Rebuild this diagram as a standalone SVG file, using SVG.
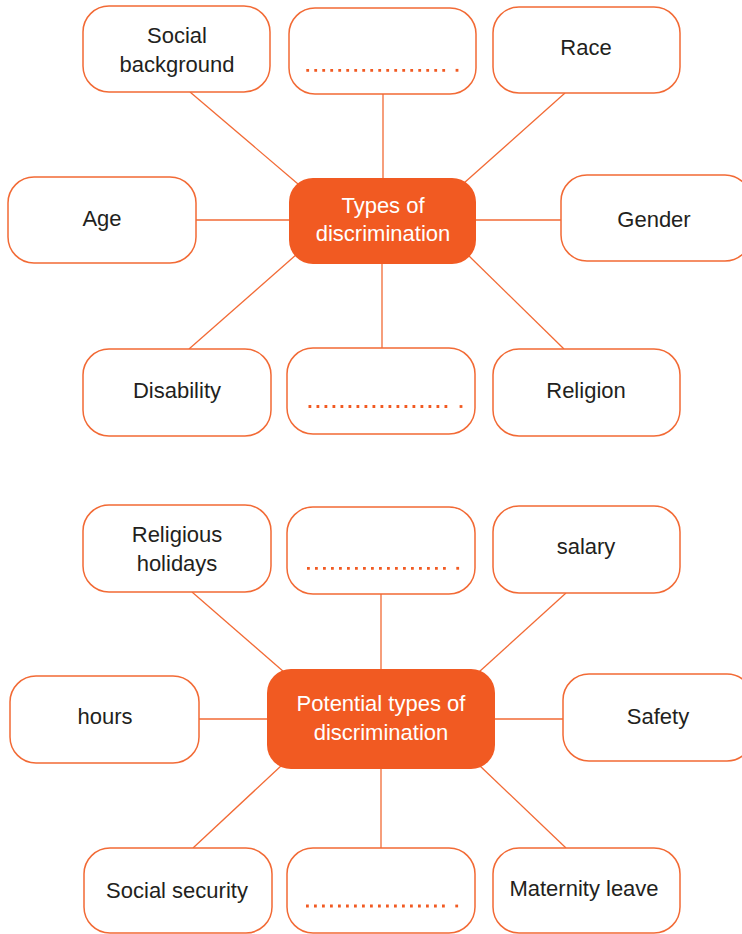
<svg xmlns="http://www.w3.org/2000/svg" width="742" height="934" viewBox="0 0 742 934">
<style>
.box{fill:#fff;stroke:#f26a35;stroke-width:1.5}
.hub{fill:#f15a22;stroke:none}
.t{font-family:"Liberation Sans",Arial,sans-serif;font-size:22px;fill:#231f20;text-anchor:middle}
.w{fill:#fff}
.c{stroke:#f26a35;stroke-width:1.3;fill:none}
.dot{stroke:#f15a22;stroke-width:2.8;stroke-dasharray:2.8 5.2;fill:none}
.d1{fill:#f15a22}
</style>
<rect width="742" height="934" fill="#fff"/>
<g id="connectors">
<line class="c" x1="190" y1="92" x2="298" y2="184"/>
<line class="c" x1="383" y1="94" x2="383" y2="178"/>
<line class="c" x1="565" y1="93" x2="464" y2="183"/>
<line class="c" x1="196" y1="220" x2="289" y2="220"/>
<line class="c" x1="476" y1="220" x2="561" y2="220"/>
<line class="c" x1="297" y1="254" x2="189" y2="349"/>
<line class="c" x1="382" y1="264" x2="382" y2="348"/>
<line class="c" x1="467" y1="254" x2="564" y2="349"/>
<line class="c" x1="192" y1="592" x2="284" y2="672"/>
<line class="c" x1="381" y1="594" x2="381" y2="669"/>
<line class="c" x1="566" y1="593" x2="479" y2="672"/>
<line class="c" x1="199" y1="719" x2="267" y2="719"/>
<line class="c" x1="495" y1="719" x2="563" y2="719"/>
<line class="c" x1="282" y1="765" x2="193" y2="848"/>
<line class="c" x1="381" y1="769" x2="381" y2="848"/>
<line class="c" x1="479" y1="765" x2="566" y2="848"/>
</g>
<g id="n-social-background"><rect class="box" x="83" y="6" width="187" height="86" rx="26"/><text class="t" x="177" y="43">Social</text><text class="t" x="177" y="72">background</text></g>
<g id="n-top-blank"><rect class="box" x="289" y="8" width="187" height="86" rx="26"/><line class="dot" x1="306.3" y1="70.3" x2="449" y2="70.3"/><rect class="d1" x="455.6" y="68.9" width="2.8" height="2.8"/></g>
<g id="n-race"><rect class="box" x="493" y="7" width="187" height="86" rx="26"/><text class="t" x="586" y="55">Race</text></g>
<g id="n-age"><rect class="box" x="8" y="177" width="188" height="86" rx="26"/><text class="t" x="102" y="226">Age</text></g>
<g id="n-types"><rect class="hub" x="289" y="178" width="187" height="86" rx="24"/><text class="t w" x="383" y="213">Types of</text><text class="t w" x="383" y="241">discrimination</text></g>
<g id="n-gender"><rect class="box" x="561" y="175" width="190" height="86" rx="26"/><text class="t" x="654" y="227">Gender</text></g>
<g id="n-disability"><rect class="box" x="83" y="349" width="188" height="87" rx="26"/><text class="t" x="177" y="398">Disability</text></g>
<g id="n-bottom-blank"><rect class="box" x="287" y="348" width="188" height="86" rx="26"/><line class="dot" x1="308.5" y1="406.5" x2="451" y2="406.5"/><rect class="d1" x="459.6" y="405.1" width="2.8" height="2.8"/></g>
<g id="n-religion"><rect class="box" x="493" y="349" width="187" height="87" rx="26"/><text class="t" x="586" y="398">Religion</text></g>
<g id="n-religious-holidays"><rect class="box" x="83" y="505" width="188" height="87" rx="26"/><text class="t" x="177" y="542">Religious</text><text class="t" x="177" y="571">holidays</text></g>
<g id="n-top-blank-2"><rect class="box" x="287" y="507" width="188" height="87" rx="26"/><line class="dot" x1="307" y1="568.3" x2="450" y2="568.3"/><rect class="d1" x="456.3" y="566.9" width="2.8" height="2.8"/></g>
<g id="n-salary"><rect class="box" x="493" y="506" width="187" height="87" rx="26"/><text class="t" x="586" y="554">salary</text></g>
<g id="n-hours"><rect class="box" x="10" y="676" width="189" height="87" rx="26"/><text class="t" x="105" y="724">hours</text></g>
<g id="n-potential"><rect class="hub" x="267" y="669" width="228" height="100" rx="24"/><text class="t w" x="381" y="711">Potential types of</text><text class="t w" x="381" y="740">discrimination</text></g>
<g id="n-safety"><rect class="box" x="563" y="674" width="190" height="87" rx="26"/><text class="t" x="658" y="724">Safety</text></g>
<g id="n-social-security"><rect class="box" x="84" y="848" width="188" height="85" rx="26"/><text class="t" x="177" y="898">Social security</text></g>
<g id="n-bottom-blank-2"><rect class="box" x="287" y="848" width="188" height="85" rx="26"/><line class="dot" x1="306" y1="906" x2="449" y2="906"/><rect class="d1" x="455.3" y="904.6" width="2.8" height="2.8"/></g>
<g id="n-maternity"><rect class="box" x="493" y="848" width="187" height="85" rx="26"/><text class="t" x="584" y="896">Maternity leave</text></g>
</svg>
